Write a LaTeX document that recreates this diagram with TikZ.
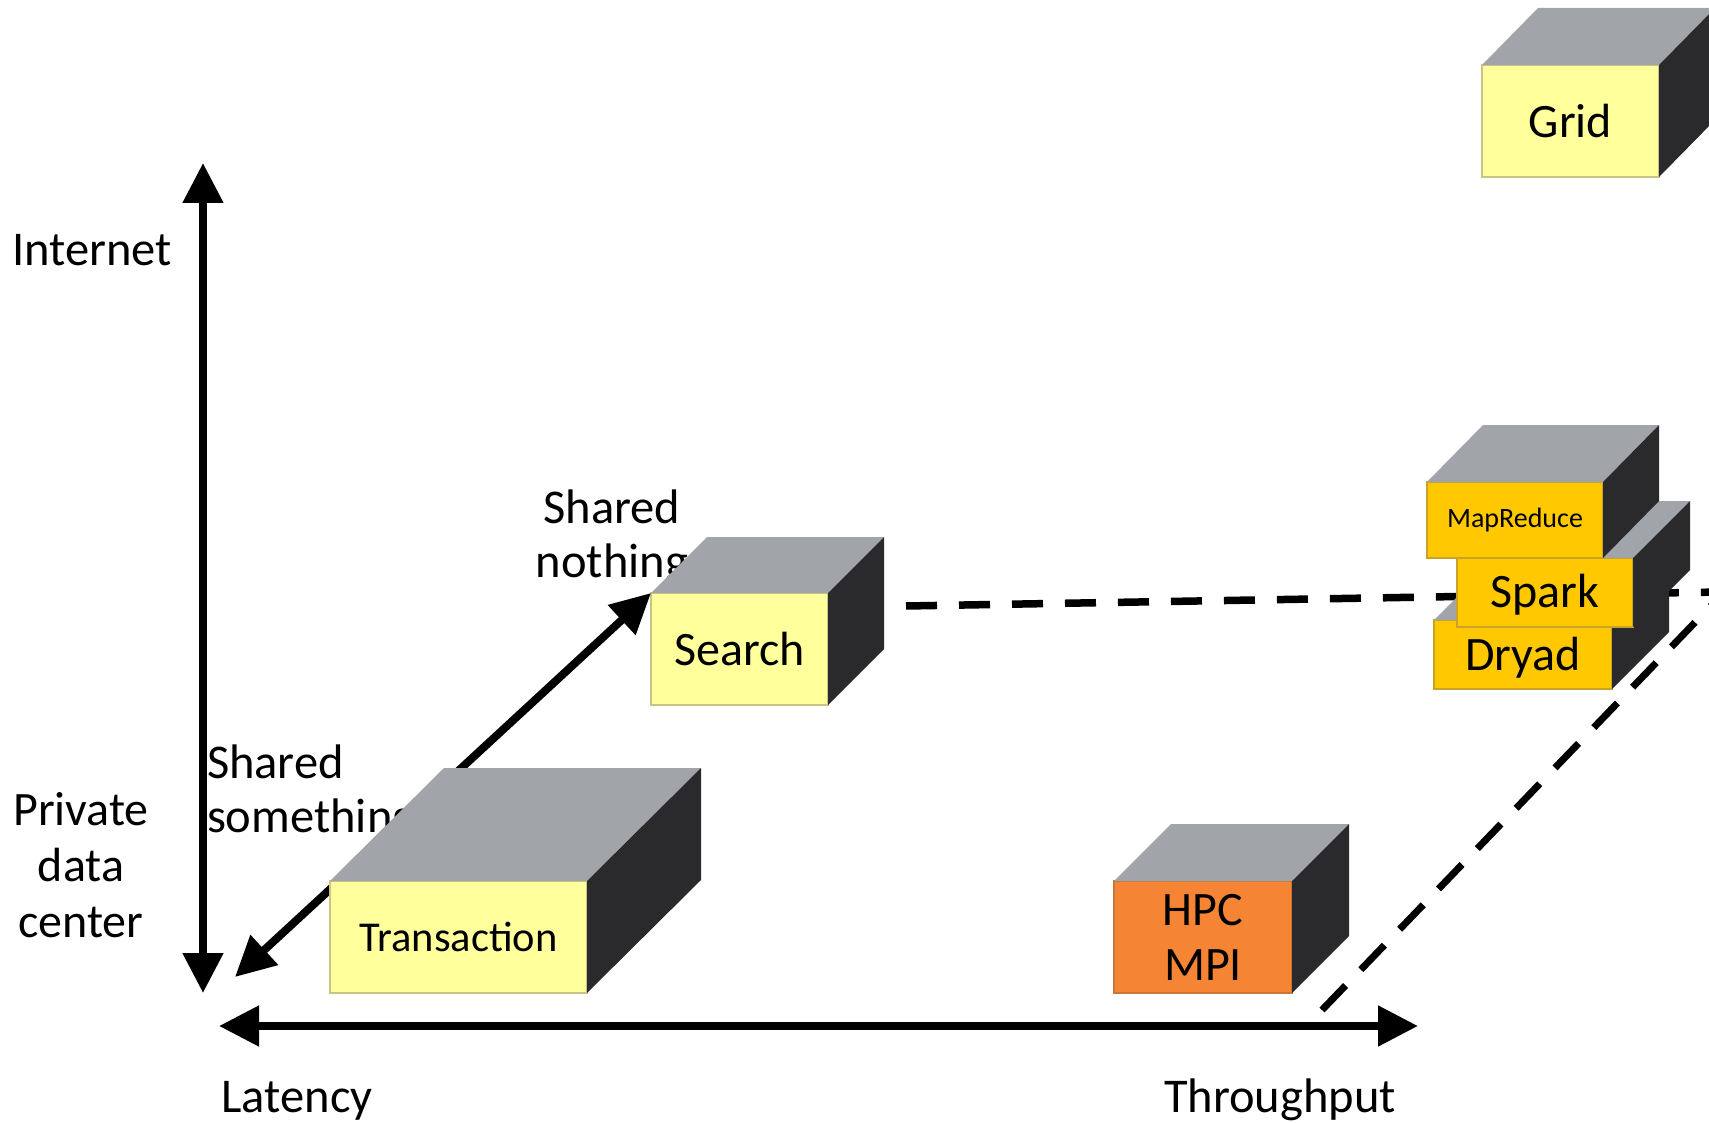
\documentclass[tikz,border=0pt]{standalone}
\usepackage{fontspec}
\setmainfont{Carlito}
\usetikzlibrary{arrows.meta,calc}
\definecolor{ylw}{HTML}{FFFF9C}
\definecolor{ylwedge}{HTML}{C9C486}
\definecolor{gold}{HTML}{FFC800}
\definecolor{goldedge}{HTML}{C9A227}
\definecolor{orng}{HTML}{F58535}
\definecolor{orngedge}{HTML}{C9763A}
\definecolor{topc}{HTML}{A1A5AA}
\definecolor{sidec}{HTML}{2A2A2C}
\newcommand\boxsides[3]{%
  \fill[topc] (#1.north west) -- ++(#2,-#3) -- ($(#1.north east)+(#2,-#3)$) -- (#1.north east) -- cycle;
  \fill[sidec] (#1.north east) -- ++(#2,-#3) -- ($(#1.south east)+(#2,-#3)$) -- (#1.south east) -- cycle;}
\tikzset{
  front/.style={draw, line width=1.2pt, inner sep=0pt, outer sep=0pt, anchor=north west, align=center},
  big/.style={font=\fontsize{48}{55}\selectfont},
  lbl/.style={inner sep=0pt, outer sep=0pt, font=\fontsize{48.5}{54}\selectfont},
  axis/.style={line width=8pt, arrows={Triangle[length=40pt,width=39pt]-Triangle[length=40pt,width=39pt]}},
  dash line/.style={line width=7.5pt, dash pattern=on 31pt off 22pt},
  dash diag/.style={line width=7pt, dash pattern=on 34pt off 22pt}
}
\begin{document}
\begin{tikzpicture}[x=1pt,y=-1pt]
\useasboundingbox (0,0) rectangle (1709,1123);
\clip (0,0) rectangle (1709,1123);
% coordinates
\coordinate (vtop) at (203,163);
\coordinate (vbot) at (203,993);
\coordinate (hl) at (219,1026);
\coordinate (hr) at (1418,1026);
\coordinate (dorig) at (235,977);
\coordinate (dl1) at (906,606);
\coordinate (dl2) at (1720,592);
\coordinate (dd1) at (1322,1010);
\coordinate (dd2) at (1730,586);
% dashed lines
\draw[dash line] (dl1) -- (dl2);
\draw[dash diag] (dd1) -- (dd2);
% axes
\draw[axis] (vbot) -- (vtop);
\draw[axis] (hl) -- (hr);
% labels
\node[lbl, anchor=base] (internet) at (92,266) {Internet};
\node[lbl, align=center, font=\fontsize{48}{56}\selectfont] (private) at (81,865) {Private\\data\\center};
\node[lbl, anchor=base] (latency) at (297,1112) {Latency};
\node[lbl, anchor=base] (throughput) at (1280,1112) {Throughput};
\node[lbl, align=left, anchor=west] (ssome) at (207,793) {Shared\\something};
\node[lbl, align=center] (snothing) at (612,538) {Shared\\nothing};
% Search box
\node[front, big, fill=ylw, draw=ylwedge, minimum width=177pt, minimum height=112pt] (search) at (651,593) {Search};
\boxsides{search}{56}{56}
% diagonal arrow
\draw[axis] (dorig) -- (search.north west);
% Transaction
\node[front, font=\fontsize{42.5}{50}\selectfont, fill=ylw, draw=ylwedge, minimum width=257pt, minimum height=112pt] (trans) at (330,881) {Transaction};
\boxsides{trans}{114}{113}
% HPC
\node[front, big, fill=orng, draw=orngedge, minimum width=178pt, minimum height=112pt] (hpc) at (1114,881) {HPC\\MPI};
\boxsides{hpc}{57}{57}
% Grid
\node[front, big, fill=ylw, draw=ylwedge, minimum width=177pt, minimum height=112pt] (grid) at (1482,65) {\raisebox{-17pt}[0pt][0pt]{Grid}};
\boxsides{grid}{56}{57}
% Dryad
\node[front, big, fill=gold, draw=goldedge, minimum width=178pt, minimum height=69pt] (dryad) at (1434,620) {\raisebox{-15.5pt}[0pt][0pt]{Dryad}};
\boxsides{dryad}{57}{57}
% Spark
\node[front, big, fill=gold, draw=goldedge, minimum width=176pt, minimum height=69pt] (spark) at (1457,558) {\raisebox{-14.5pt}[0pt][0pt]{Spark}};
\boxsides{spark}{57}{57}
% MapReduce
\node[front, font=\fontsize{28}{34}\selectfont, fill=gold, draw=goldedge, minimum width=176pt, minimum height=76pt] (mapred) at (1427,482) {MapReduce};
\boxsides{mapred}{56}{57}
\end{tikzpicture}
\end{document}
